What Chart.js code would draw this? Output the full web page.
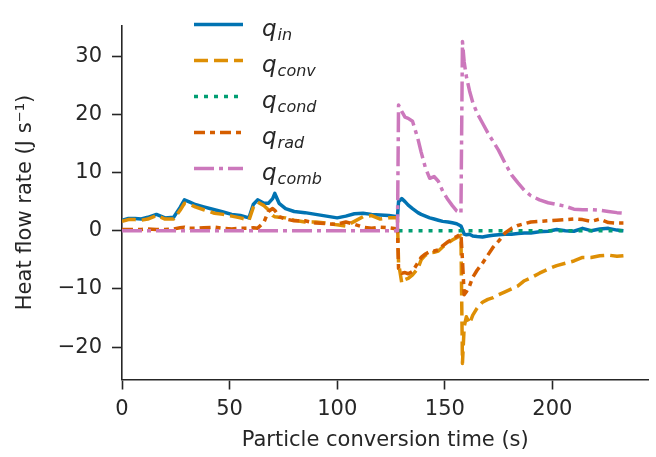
<!DOCTYPE html>
<html>
<head>
<meta charset="utf-8">
<script src="https://cdn.jsdelivr.net/npm/chart.js@4.4.1/dist/chart.umd.min.js"></script>
<style>
  html, body { margin: 0; padding: 0; background: #ffffff; }
  #wrap { width: 656px; height: 457px; }
</style>
</head>
<body>
<div id="wrap"><canvas id="c" width="656" height="457"></canvas></div>
<script>
// ---- data ----
const time = [
  0, 3, 6, 9, 12, 16, 20, 24, 27, 29,
  31, 34, 38, 43, 47, 51, 55, 59, 61, 63,
  66, 68, 70, 71, 73, 76, 80, 85, 90, 95,
  100, 104, 108, 112, 116, 120, 124, 128, 128.5, 130,
  131.5, 133, 135, 137.5, 139, 141, 143, 145, 147, 149,
  151.5, 153.5, 155.5, 157.5, 158.2, 159, 160, 161.5, 163, 165,
  167.5, 170, 172.5, 175, 178, 181, 184, 187, 190, 194,
  198, 202, 206, 210, 214, 218, 222, 226, 230, 233
];
const qIn = [
  1.8, 2.1, 2.1, 2.0, 2.3, 2.8, 2.2, 2.3, 4.0, 5.3,
  5.0, 4.5, 4.1, 3.6, 3.2, 2.8, 2.6, 2.2, 4.5, 5.3,
  4.7, 4.7, 5.5, 6.4, 4.7, 3.8, 3.3, 3.1, 2.8, 2.5,
  2.2, 2.5, 2.9, 3.0, 2.8, 2.7, 2.6, 2.4, 5.0, 5.5,
  5.0, 4.4, 3.8, 3.1, 2.8, 2.5, 2.2, 2.0, 1.8, 1.6,
  1.5, 1.35, 1.2, 0.8, 0.2, -0.6, -0.7, -0.6, -0.9, -1.0,
  -1.1, -0.9, -0.8, -0.7, -0.6, -0.6, -0.5, -0.4, -0.4, -0.2,
  -0.1, 0.2, 0.0, -0.1, 0.4, 0.0, 0.3, 0.4, 0.1, 0.0
];
const qConv = [
  1.6, 1.9, 1.9, 1.8, 2.0, 2.6, 2.0, 2.0, 3.5, 4.7,
  4.6, 4.1, 3.6, 3.0, 2.8, 2.5, 2.2, 1.8, 4.0, 4.9,
  4.3, 3.6, 2.6, 2.4, 2.3, 2.2, 1.8, 1.5, 1.5, 1.3,
  1.0, 0.8, 1.6, 2.4, 2.6, 2.0, 2.2, 2.2, -5.5, -9.0,
  -8.4, -8.2, -7.6, -6.5, -5.0, -4.2, -3.8, -3.7, -3.5, -2.8,
  -2.1, -1.6, -1.2, -0.8, -22.8, -16.5, -14.8, -16.0, -14.5, -13.3,
  -12.3, -11.8, -11.5, -11.0, -10.5, -10.0, -9.5, -8.6, -8.1, -7.3,
  -6.6, -6.0, -5.6, -5.2, -4.6, -4.6, -4.3, -4.2, -4.4, -4.3
];
const qCond = [
  null, null, null, null, null, null, null, null, null, null,
  null, null, null, null, null, null, null, null, null, null,
  null, null, null, null, null, null, null, null, null, null,
  null, null, null, null, null, null, null, null, 0, 0,
  0, 0, 0, 0, 0, 0, 0, 0, 0, 0,
  0, 0, 0, 0, 0, 0, 0, 0, 0, 0,
  0, 0, 0, 0, 0, 0, 0, 0, 0, 0,
  0, 0, 0, 0, 0, 0, 0, 0, 0, 0
];
const qRad = [
  0.2, 0.2, 0.2, 0.2, 0.3, 0.2, 0.2, 0.3, 0.5, 0.6,
  0.4, 0.4, 0.5, 0.6, 0.4, 0.3, 0.4, 0.4, 0.5, 0.4,
  1.5, 3.3, 3.8, 3.5, 2.4, 2.0, 1.7, 1.7, 1.3, 1.2,
  1.1, 1.5, 1.1, 0.6, 0.4, 0.6, 0.5, 0.3, -6.5, -7.3,
  -7.2, -7.4, -7.0, -5.5, -4.6, -4.0, -3.6, -3.5, -3.3, -2.6,
  -1.9, -1.4, -1.0, -0.6, -5.0, -11.0, -10.5, -9.5, -8.0, -6.8,
  -5.6, -4.2, -2.8, -1.8, -0.4, 0.4, 0.9, 1.2, 1.5, 1.6,
  1.7, 1.8, 1.9, 2.0, 1.9, 1.6, 2.0, 1.4, 1.3, 1.3
];
const qComb = [
  0, 0, 0, 0, 0, 0, 0, 0, 0, 0,
  0, 0, 0, 0, 0, 0, 0, 0, 0, 0,
  0, 0, 0, 0, 0, 0, 0, 0, 0, 0,
  0, 0, 0, 0, 0, 0, 0, 0, 21.6, 20.5,
  19.5, 19.3, 18.8, 15.8, 13.5, 10.8, 9.0, 9.3, 8.5, 6.8,
  5.3, 4.3, 3.4, 3.0, 32.5, 29.0, 26.5, 24.0, 22.0, 20.2,
  18.5, 16.8, 15.3, 13.8, 11.6, 9.6, 8.2, 6.9, 6.0, 5.3,
  4.8, 4.5, 4.2, 3.7, 3.6, 3.6, 3.5, 3.3, 3.1, 3.0
];
const seriesSubs = ['in', 'conv', 'cond', 'rad', 'comb'];
const xTicks = [0, 50, 100, 150, 200];
const yTicks = [-20, -10, 0, 10, 20, 30];

// ---- styles ----
const colors = ['#0173b2', '#de8f05', '#029e73', '#d55e00', '#cc78bc'];
const dashes = [[], [14, 6], [4, 6], [11, 5, 5, 5], [20, 5, 4, 5]];
const seriesValues = [qIn, qConv, qCond, qRad, qComb];
const TEXT = '#262626';
const FONT = '"DejaVu Sans", sans-serif';
const LW = 3.5;

const datasets = seriesValues.map((vals, i) => ({
  label: 'q_' + seriesSubs[i],
  data: time.map((t, k) => ({ x: t, y: vals[k] })),
  borderColor: colors[i],
  backgroundColor: colors[i],
  borderWidth: LW,
  borderDash: dashes[i],
  borderCapStyle: 'butt',
  borderJoinStyle: 'round',
  pointRadius: 0,
  tension: 0,
  fill: false,
  spanGaps: false,
  order: seriesValues.length - i
}));

const mathLegend = {
  id: 'mathLegend',
  afterDatasetsDraw(chart) {
    const ctx = chart.ctx;
    ctx.save();
    seriesSubs.forEach((sub, i) => {
      const y = 24.5 + i * 36;
      ctx.strokeStyle = colors[i];
      ctx.lineWidth = LW;
      ctx.lineCap = 'butt';
      ctx.setLineDash(dashes[i]);
      ctx.beginPath();
      ctx.moveTo(194, y);
      ctx.lineTo(243, y);
      ctx.stroke();
      ctx.setLineDash([]);
      ctx.fillStyle = TEXT;
      ctx.textAlign = 'left';
      ctx.textBaseline = 'alphabetic';
      ctx.font = 'italic 23px ' + FONT;
      ctx.fillText('q', 262, y + 11);
      const w = ctx.measureText('q').width;
      ctx.font = 'italic 16px ' + FONT;
      ctx.fillText(sub, 262 + w + 1, y + 15);
    });
    ctx.restore();
  }
};

new Chart(document.getElementById('c'), {
  type: 'line',
  data: { datasets },
  options: {
    responsive: false,
    animation: false,
    devicePixelRatio: 1,
    layout: { padding: { top: 25.4, right: 7.5, bottom: 0, left: 0 } },
    plugins: { legend: { display: false }, tooltip: { enabled: false } },
    scales: {
      x: {
        type: 'linear',
        min: 0,
        max: 244.65,
        afterFit(s) { s.height = 77.5; },
        afterBuildTicks(s) { s.ticks = xTicks.map(v => ({ value: v })); },
        grid: { drawOnChartArea: false, drawTicks: true, tickLength: 10, tickWidth: 1.6, tickColor: TEXT },
        border: { display: true, color: TEXT, width: 1.6 },
        ticks: { color: TEXT, font: { family: FONT, size: 21 }, padding: 7, maxRotation: 0 },
        title: { display: true, text: 'Particle conversion time (s)', color: TEXT,
                 font: { family: FONT, size: 21 }, padding: { top: 0, bottom: 4 } }
      },
      y: {
        type: 'linear',
        min: -25.57,
        max: 35.27,
        afterFit(s) { s.width = 122; },
        afterBuildTicks(s) { s.ticks = yTicks.map(v => ({ value: v })); },
        grid: { drawOnChartArea: false, drawTicks: true, tickLength: 10, tickWidth: 1.6, tickColor: TEXT },
        border: { display: true, color: TEXT, width: 1.6 },
        ticks: { color: TEXT, font: { family: FONT, size: 21 }, padding: 10,
                 callback: v => (v < 0 ? '\u2212' + Math.abs(v) : String(v)) },
        title: { display: true, text: 'Heat flow rate (J s\u207B\u00B9)', color: TEXT,
                 font: { family: FONT, size: 21 }, padding: { top: 13, bottom: 0 } }
      }
    }
  },
  plugins: [mathLegend]
});
</script>
</body>
</html>
